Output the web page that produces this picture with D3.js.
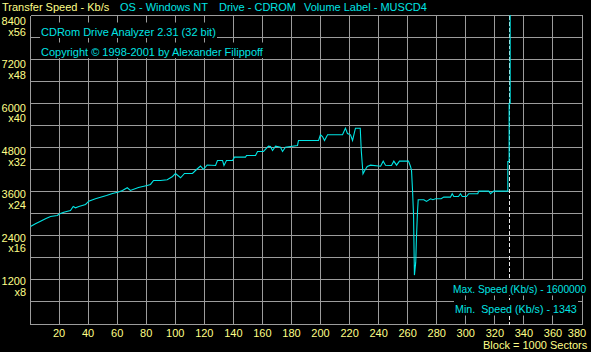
<!DOCTYPE html>
<html>
<head>
<meta charset="utf-8">
<script src="https://cdn.jsdelivr.net/npm/d3@7"></script>
<style>
  html, body { margin: 0; padding: 0; background: #000; overflow: hidden; }
  svg { display: block; }
  text { font-family: "Liberation Sans", Arial, sans-serif; font-size: 11px; }
</style>
</head>
<body>
<script>
// Transfer speed per block (1 block = 1000 sectors)
var blocks = [0, 3.4, 6.9, 10.3, 13.8, 18.4, 20.2, 22.9, 27.5, 29.4, 31, 33.3, 37.9, 40.1, 44.7,
  48.2, 52.3, 56.4, 60.1, 63.3, 66.6, 68.8, 74.3, 80.3, 82.6, 84.7, 89.5, 94.1, 97.8, 99.8,
  103.3, 106, 111.5, 114.3, 117, 119.1, 121.6, 127.4, 128.7, 132.2, 133.2, 134.9, 139.1, 140.4,
  148, 148.7, 154.9, 156.3, 160.4, 163.8, 165.2, 166.6, 168.7, 172.1, 173.5, 175.5, 183.8,
  184.5, 198.3, 199.6, 201, 202.4, 204.5, 214.8, 216.8, 218.2, 220.3, 221.7, 223.7, 227,
  227.7, 228.9, 230.1, 231.8, 234.1, 241, 242.8, 244.4, 248.5, 250.1, 252, 254, 260.2, 261.6,
  262.3, 263, 263.7, 264.1, 264.3, 265.2, 265.7, 266.4, 266.9, 270.8, 272.6, 275.4, 277,
  278.8, 282.7, 284.5, 289.1, 290.3, 291.4, 294.6, 296, 297.2, 300.1, 301.7, 307.9, 308.6,
  315.5, 316.7, 318.9, 328.6, 328.6, 329.5, 329.5, 330.2, 330.2]
  , speeds = [2665, 2738, 2809, 2875, 2937, 2964, 3010, 3054, 3100, 3209, 3173, 3209, 3263, 3353, 3418,
  3461, 3508, 3562, 3597, 3643, 3717, 3643, 3725, 3779, 3807, 3915, 3915, 3934, 4024, 4106,
  3989, 4106, 4106, 4214, 4309, 4214, 4337, 4323, 4459, 4459, 4323, 4459, 4459, 4549,
  4549, 4595, 4595, 4704, 4704, 4848, 4840, 4731, 4848, 4820, 4704, 4820, 4867,
  5003, 5003, 5157, 5111, 5003, 5157, 5157, 5337, 5193, 5157, 5003, 5337, 5337,
  4731, 4097, 4187, 4296, 4331, 4304, 4440, 4331, 4323, 4440, 4331, 4440, 4440, 4296,
  4187, 3644, 2964, 1830, 1343, 1695, 2374, 3054, 3391, 3391, 3345, 3418, 3391,
  3418, 3418, 3462, 3462, 3554, 3480, 3480, 3554, 3480, 3480, 3554, 3554, 3625,
  3625, 3554, 3625, 3625, 4432, 4432, 6008, 6008, 1600000]

var xTicks = d3.range(0, 381, 20)
  , yGrid = d3.range(0, 8401, 600)
  , speedLabels = [8400, 7200, 6000, 4800, 3600, 2400, 1200]
  , multLabels = ['x56', 'x48', 'x40', 'x32', 'x24', 'x16', 'x8']
  , endBlock = 330

var headerTexts = ['OS - Windows NT', 'Drive - CDROM', 'Volume Label - MUSCD4']
  , headerX = [120, 219, 304]
  , infoLines = ['CDRom Drive Analyzer 2.31 (32 bit)', 'Copyright \u00a9 1998-2001 by Alexander Filippoff']
  , statLines = ['Max. Speed (Kb/s) - 1600000', 'Min.  Speed (Kb/s) - 1343']

var width = 591, height = 352
  , yellow = '#ffff88', cyan = '#00e4e4', gridColor = '#9c9c9c'
  , snap = function(v) { return Math.floor(v) + 0.5 }

var x = d3.scaleLinear().domain([0, 380]).range([30, 582])
  , y = d3.scaleLinear().domain([0, 8400]).range([324, 15])
  // the labels on the left sit on a slightly tighter spacing than the grid
  , yLabel = d3.scaleLinear().domain([8400, 1200]).range([16.7, 276.7])

var svg = d3.select('body').append('svg')
  .attr('width', width).attr('height', height)

svg.append('rect').attr('width', width).attr('height', height).attr('fill', '#000')

svg.append('clipPath').attr('id', 'plot')
  .append('rect').attr('x', 30).attr('y', 15).attr('width', 553).attr('height', 310)

// grid
var grid = svg.append('g').attr('stroke', gridColor).attr('shape-rendering', 'crispEdges')
grid.selectAll('line.v').data(xTicks).enter().append('line')
  .attr('x1', function(d) { return snap(x(d)) }).attr('x2', function(d) { return snap(x(d)) })
  .attr('y1', snap(y(8400))).attr('y2', snap(y(0)))
grid.selectAll('line.h').data(yGrid).enter().append('line')
  .attr('y1', function(d) { return snap(y(d)) }).attr('y2', function(d) { return snap(y(d)) })
  .attr('x1', snap(x(0))).attr('x2', snap(x(380)))

// end of disc marker
svg.append('line')
  .attr('x1', snap(x(endBlock))).attr('x2', snap(x(endBlock)))
  .attr('y1', snap(y(8400))).attr('y2', snap(y(0)))
  .attr('stroke', '#e8e8e8').attr('stroke-dasharray', '4,2')
  .attr('shape-rendering', 'crispEdges')

// speed curve
var line = d3.line()
  .x(function(d, i) { return x(blocks[i]) + 0.5 })
  .y(function(d) { return y(d) + 0.5 })

svg.append('path')
  .attr('clip-path', 'url(#plot)')
  .attr('d', line(speeds))
  .attr('fill', 'none').attr('stroke', cyan).attr('stroke-width', 1.1)

// axis labels
svg.selectAll('text.sp').data(speedLabels).enter().append('text')
  .attr('x', 26).attr('y', function(d) { return yLabel(d) + 8.3 })
  .attr('text-anchor', 'end').attr('fill', yellow)
  .text(function(d) { return d })
svg.selectAll('text.mu').data(multLabels).enter().append('text')
  .attr('x', 26).attr('y', function(d, i) { return yLabel(speedLabels[i]) + 19 })
  .attr('text-anchor', 'end').attr('fill', yellow)
  .text(function(d) { return d })

svg.selectAll('text.xt').data(xTicks.slice(1)).enter().append('text')
  .attr('x', function(d) { return Math.min(x(d), 577) }).attr('y', 337)
  .attr('text-anchor', 'middle').attr('fill', yellow)
  .text(function(d) { return d })

svg.append('text').attr('x', 483).attr('y', 349).attr('fill', yellow).text('Block = 1000 Sectors')

// header
svg.append('text').attr('x', 2).attr('y', 11).attr('fill', yellow).text('Transfer Speed - Kb/s')
svg.selectAll('text.hd').data(headerTexts).enter().append('text')
  .attr('x', function(d, i) { return headerX[i] }).attr('y', 11)
  .attr('fill', cyan).text(function(d) { return d })

// text drawn with an opaque background, like the original program does
var boxedText = function(str, tx, ty, size) {
  var g = svg.append('g')
  var t = g.append('text').attr('x', tx).attr('y', ty)
    .attr('fill', cyan).style('white-space', 'pre').text(str)
  if (size) t.style('font-size', size + 'px')
  var bb = t.node().getBBox()
  g.insert('rect', 'text')
    .attr('x', Math.floor(bb.x) - 1).attr('y', ty - 13)
    .attr('width', Math.ceil(bb.width) + 2).attr('height', 15.5)
    .attr('fill', '#000')
}

boxedText(infoLines[0], 41, 35.5)
boxedText(infoLines[1], 41, 55.5)
// a bit smaller so the whole number stays inside the window
boxedText(statLines[0], 453, 293, 10.2)
boxedText(statLines[1], 455, 313, 10.7)
</script>
</body>
</html>
